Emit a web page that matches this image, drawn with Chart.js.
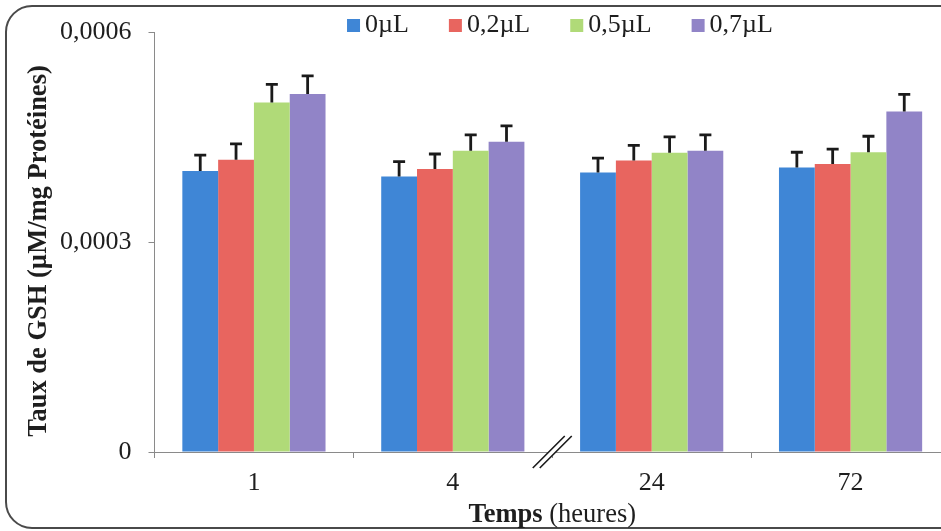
<!DOCTYPE html>
<html>
<head>
<meta charset="utf-8">
<script src="https://cdn.jsdelivr.net/npm/chart.js@4/dist/chart.umd.min.js"></script>
<style>
  html, body { margin: 0; padding: 0; overflow: hidden; background: #fff; }
  #wrap { width: 960px; height: 531px; position: relative; }
</style>
</head>
<body>
<div id="wrap"><canvas id="c"></canvas></div>
<script>
// Time points (hours)
const categories = ['1', '4', '24', '72'];
// Dose series
const seriesLabels = ['0µL', '0,2µL', '0,5µL', '0,7µL'];
const seriesColors = ['#3f86d6', '#e8655f', '#b0da78', '#9184c7'];

// GSH level (µM/mg protein), mean per time point
const values0  = [0.000402, 0.000394, 0.000400, 0.000407];
const values02 = [0.000418, 0.000405, 0.000417, 0.000412];
const values05 = [0.000500, 0.000431, 0.000428, 0.000429];
const values07 = [0.000512, 0.000444, 0.000431, 0.000487];

// Standard error (upper bar only)
const err0  = [0.0000227, 0.0000213, 0.0000203, 0.0000218];
const err02 = [0.0000227, 0.0000213, 0.0000218, 0.0000213];
const err05 = [0.0000260, 0.0000227, 0.0000227, 0.0000227];
const err07 = [0.0000260, 0.0000227, 0.0000227, 0.0000245];

const yTickLabels = ['0', '0,0003', '0,0006'];

const allValues = [values0, values02, values05, values07];
const allErrors = [err0, err02, err05, err07];

const SERIF = '"Liberation Serif", "Times New Roman", serif';
const INK = '#1e1e1e';
const AXIS = '#8a8a8a';

Chart.defaults.font.family = SERIF;
Chart.defaults.color = INK;

const decorations = {
  id: 'decorations',
  beforeDraw(chart) {
    const ctx = chart.ctx;
    // rounded outer frame
    ctx.save();
    ctx.strokeStyle = '#4a4a4a';
    ctx.lineWidth = 2;
    ctx.beginPath();
    ctx.roundRect(6, 6, 1000, 522, 26);
    ctx.stroke();
    ctx.restore();
  },
  afterDatasetsDraw(chart) {
    const ctx = chart.ctx;
    const y = chart.scales.y;
    ctx.save();
    ctx.strokeStyle = '#1a1a1a';
    ctx.lineWidth = 2.8;
    chart.data.datasets.forEach((ds, i) => {
      const meta = chart.getDatasetMeta(i);
      meta.data.forEach((bar, j) => {
        const top = y.getPixelForValue(ds.data[j] + allErrors[i][j]);
        ctx.beginPath();
        ctx.moveTo(bar.x, bar.y);
        ctx.lineTo(bar.x, top);
        ctx.moveTo(bar.x - 6, top);
        ctx.lineTo(bar.x + 6, top);
        ctx.stroke();
      });
    });
    ctx.restore();
  },
  afterDraw(chart) {
    const ctx = chart.ctx;
    const area = chart.chartArea;
    const x = chart.scales.x;

    // axis break between 4 h and 24 h
    const bx = (x.getPixelForValue(1) + x.getPixelForValue(2)) / 2;
    const by = area.bottom;
    const h = 16, gap = 7;
    ctx.save();
    ctx.fillStyle = '#fff';
    ctx.beginPath();
    ctx.moveTo(bx - gap / 2 - h, by + h);
    ctx.lineTo(bx - gap / 2 + h, by - h);
    ctx.lineTo(bx + gap / 2 + h, by - h);
    ctx.lineTo(bx + gap / 2 - h, by + h);
    ctx.closePath();
    ctx.fill();
    ctx.strokeStyle = '#1a1a1a';
    ctx.lineWidth = 1.6;
    ctx.beginPath();
    ctx.moveTo(bx - gap / 2 - h, by + h);
    ctx.lineTo(bx - gap / 2 + h, by - h);
    ctx.moveTo(bx + gap / 2 - h, by + h);
    ctx.lineTo(bx + gap / 2 + h, by - h);
    ctx.stroke();
    ctx.restore();

    // legend
    ctx.save();
    ctx.font = '26px ' + SERIF;
    ctx.textBaseline = 'alphabetic';
    const widths = seriesLabels.map(t => ctx.measureText(t).width);
    const total = widths.reduce((a, w) => a + 18 + w, 0) + 40 * (seriesLabels.length - 1);
    let lx = 560 - total / 2;
    seriesLabels.forEach((t, i) => {
      ctx.fillStyle = seriesColors[i];
      ctx.fillRect(lx, 19, 13, 13);
      ctx.fillStyle = INK;
      ctx.fillText(t, lx + 18, 32);
      lx += 18 + widths[i] + 40;
    });
    ctx.restore();

    // x axis title: bold "Temps" + regular "(heures)"
    ctx.save();
    ctx.fillStyle = INK;
    ctx.textBaseline = 'alphabetic';
    const boldFont = 'bold 26.5px ' + SERIF;
    const regFont = '26.5px ' + SERIF;
    ctx.font = boldFont;
    const w1 = ctx.measureText('Temps').width;
    ctx.font = regFont;
    const w2 = ctx.measureText(' (heures)').width;
    const cx = (area.left + area.right) / 2;
    let tx = cx - (w1 + w2) / 2;
    ctx.font = boldFont;
    ctx.fillText('Temps', tx, 522);
    ctx.font = regFont;
    ctx.fillText(' (heures)', tx + w1, 522);
    ctx.restore();

    // y axis title
    ctx.save();
    ctx.fillStyle = INK;
    ctx.font = 'bold 26.5px ' + SERIF;
    ctx.textAlign = 'center';
    ctx.textBaseline = 'alphabetic';
    ctx.translate(46, 251);
    ctx.rotate(-Math.PI / 2);
    ctx.fillText('Taux de GSH (µM/mg Protéines)', 0, 0);
    ctx.restore();
  }
};

new Chart(document.getElementById('c'), {
  type: 'bar',
  data: {
    labels: categories,
    datasets: seriesLabels.map((label, i) => ({
      label,
      data: allValues[i],
      backgroundColor: seriesColors[i],
      borderWidth: 0,
      categoryPercentage: 0.72,
      barPercentage: 1.0
    }))
  },
  options: {
    responsive: true,
    maintainAspectRatio: false,
    animation: false,
    layout: { padding: { top: 28, right: 10, left: 0, bottom: 0 } },
    plugins: {
      legend: { display: false },
      tooltip: { enabled: false }
    },
    scales: {
      x: {
        offset: true,
        grid: {
          offset: true,
          drawOnChartArea: false,
          drawTicks: true,
          tickLength: 6,
          color: AXIS
        },
        border: { display: true, color: AXIS, width: 1 },
        ticks: { font: { size: 26 }, color: INK, padding: 10 },
        afterFit(scale) { scale.height = 79; }
      },
      y: {
        min: 0,
        max: 0.0006,
        grid: {
          drawOnChartArea: false,
          drawTicks: true,
          tickLength: 6,
          color: AXIS
        },
        border: { display: true, color: AXIS, width: 1 },
        ticks: {
          stepSize: 0.0003,
          font: { size: 26 },
          color: INK,
          padding: 17,
          callback: (value, index) => yTickLabels[index]
        },
        afterFit(scale) { scale.width = 154.5; }
      }
    }
  },
  plugins: [decorations]
});
</script>
</body>
</html>
